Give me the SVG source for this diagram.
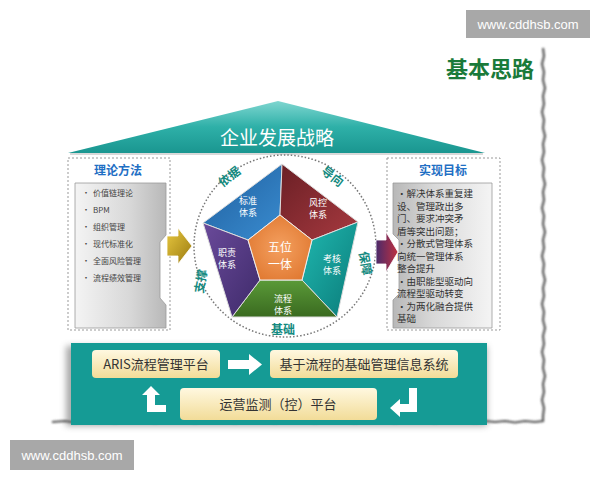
<svg xmlns="http://www.w3.org/2000/svg" width="600" height="480" viewBox="0 0 600 480">
<style>
.cjk{font-family:"Noto Sans CJK SC","Liberation Sans",sans-serif}
.wm{font-family:"Liberation Sans",sans-serif;font-size:13px;fill:#fff}
.item{font-family:"Noto Sans CJK SC",sans-serif;font-size:8px;fill:#444}
.goal{font-family:"Noto Sans CJK SC",sans-serif;font-size:9.5px;fill:#333}
.ttl{font-family:"Noto Sans CJK SC",sans-serif;font-size:12px;font-weight:bold;fill:#1f6fc4}
.seg{font-family:"Noto Sans CJK SC",sans-serif;font-size:9px;fill:#fff}
.ring{font-family:"Noto Sans CJK SC",sans-serif;font-size:12px;font-weight:bold;fill:#148a80}
.btn{font-family:"Noto Sans CJK SC",sans-serif;font-size:13px;fill:#333}
.dash{fill:#fff;stroke:#999;stroke-width:1;stroke-dasharray:2,2}
.cream{fill:url(#gCream)}
</style>
<defs>
<linearGradient id="gRoof" x1="0" y1="0" x2="0" y2="1"><stop offset="0" stop-color="#7fd6d0"/><stop offset="0.5" stop-color="#2eb0a8"/><stop offset="1" stop-color="#1a9690"/></linearGradient>
<linearGradient id="gGray" x1="0" y1="0" x2="1" y2="0"><stop offset="0" stop-color="#f4f4f4"/><stop offset="0.6" stop-color="#d8d8d8"/><stop offset="1" stop-color="#b8b8b8"/></linearGradient>
<linearGradient id="gGray2" x1="0" y1="0" x2="1" y2="0"><stop offset="0" stop-color="#b8b8b8"/><stop offset="0.4" stop-color="#d8d8d8"/><stop offset="1" stop-color="#f4f4f4"/></linearGradient>
<linearGradient id="gGold" x1="0" y1="0" x2="1" y2="1"><stop offset="0" stop-color="#e8c840"/><stop offset="1" stop-color="#9a7a10"/></linearGradient>
<linearGradient id="gRed" x1="0" y1="0" x2="1" y2="0"><stop offset="0" stop-color="#4a2a6a"/><stop offset="1" stop-color="#c03040"/></linearGradient>
<linearGradient id="gCream" x1="0" y1="0" x2="0" y2="1"><stop offset="0" stop-color="#fff8e0"/><stop offset="1" stop-color="#f2dc98"/></linearGradient>
<linearGradient id="gBlue" x1="0" y1="0" x2="1" y2="1"><stop offset="0" stop-color="#1f5f9e"/><stop offset="1" stop-color="#3a8cd0"/></linearGradient>
<linearGradient id="gDRed" x1="0" y1="0" x2="1" y2="1"><stop offset="0" stop-color="#6a1f25"/><stop offset="1" stop-color="#a83a40"/></linearGradient>
<linearGradient id="gTeal" x1="0" y1="0" x2="1" y2="1"><stop offset="0" stop-color="#20b8b0"/><stop offset="1" stop-color="#0a7a78"/></linearGradient>
<linearGradient id="gGreen" x1="0" y1="0" x2="0" y2="1"><stop offset="0" stop-color="#5a9a38"/><stop offset="1" stop-color="#3a6a20"/></linearGradient>
<linearGradient id="gPurple" x1="0" y1="0" x2="1" y2="1"><stop offset="0" stop-color="#6a4a9a"/><stop offset="1" stop-color="#3e2a6a"/></linearGradient>
<radialGradient id="gOrange" cx="0.5" cy="0.5" r="0.6"><stop offset="0" stop-color="#f4a060"/><stop offset="1" stop-color="#e07830"/></radialGradient>
<filter id="blur" x="-50%" y="-5%" width="200%" height="110%"><feGaussianBlur stdDeviation="0.8"/></filter>
<filter id="shadow" x="-10%" y="-10%" width="120%" height="130%"><feGaussianBlur stdDeviation="3"/></filter>
</defs>
<rect width="600" height="480" fill="#fff"/>

<g id="torn-edge">
<path d="M543,48 L544,56 L542,64 L544,72 L543,80 L545,88 L543,96 L544,104 L542,112 L544,120 L543,128 L545,136 L543,144 L544,152 L542,160 L544,168 L543,176 L545,184 L543,192 L544,200 L542,208 L544,216 L543,224 L545,232 L543,240 L544,248 L542,256 L544,264 L543,272 L545,280 L543,288 L544,296 L542,304 L544,312 L543,320 L545,328 L543,336 L544,344 L542,352 L544,360 L543,368 L545,376 L543,384 L544,392 L542,400 L544,408 L543,416 L543,421 L535,422 L525,421 L515,422.5 L505,421 L495,422 L485,421 L475,422.5 L465,421 L455,422 L445,421 L435,422.5 L425,421 L415,422 L405,421 L395,422.5 L385,421 L375,422 L365,421 L355,422.5 L345,421 L335,422 L325,421 L315,422.5 L305,421 L295,422 L285,421 L275,422.5 L265,421 L255,422 L245,421 L235,422.5 L225,421 L215,422 L205,421 L195,422.5 L185,421 L175,422 L165,421 L155,422.5 L145,421 L135,422 L125,421 L115,422.5 L105,421 L95,422 L85,421 L75,422.5 L65,421 L52,422" fill="none" stroke="#555" stroke-width="2.2" filter="url(#blur)"/>
</g>

<g id="watermark-top">
<rect x="466" y="10" width="124" height="28" fill="#a8a8a8"/>
<text x="528" y="29" text-anchor="middle" class="wm">www.cddhsb.com</text>
</g>
<g id="watermark-bottom">
<rect x="10" y="440" width="124" height="30" fill="#a8a8a8"/>
<text x="72" y="460" text-anchor="middle" class="wm">www.cddhsb.com</text>
</g>

<g id="title">
<text x="490" y="77" text-anchor="middle" class="cjk" font-size="22" font-weight="bold" fill="#1a7a3a">基本思路</text>
</g>

<g id="roof">
<polygon points="278,101 485,153 68,153" fill="url(#gRoof)"/>
<line x1="70" y1="154" x2="483" y2="154" stroke="#ccc" stroke-width="1.5"/>
<text x="277" y="145" text-anchor="middle" class="cjk" font-size="19" fill="#fff">企业发展战略</text>
</g>

<g id="theory-box">
<rect x="68" y="158" width="102" height="172" class="dash"/>
<text x="118" y="175" text-anchor="middle" class="ttl">理论方法</text>
<path d="M75,183 H166 V235 L160,242 V298 L166,305 V328 H75 Z" fill="url(#gGray)" stroke="#999" stroke-width="0.8"/>
<g class="item">
<text x="82" y="196">•</text><text x="93" y="196">价值链理论</text>
<text x="82" y="213">•</text><text x="93" y="213">BPM</text>
<text x="82" y="230">•</text><text x="93" y="230">组织管理</text>
<text x="82" y="247">•</text><text x="93" y="247">现代标准化</text>
<text x="82" y="264">•</text><text x="93" y="264">全面风险管理</text>
<text x="82" y="281">•</text><text x="93" y="281">流程绩效管理</text>
</g>
</g>

<g id="goal-box">
<rect x="387" y="158" width="113" height="172" class="dash"/>
<text x="443" y="175" text-anchor="middle" class="ttl">实现目标</text>
<path d="M393,183 H492 V328 H393 V300 L399,294 V240 L393,234 Z" fill="url(#gGray2)" stroke="#999" stroke-width="0.8"/>
<g class="goal">
<text x="397" y="197">•解决体系重复建</text>
<text x="397" y="209.5">设、管理政出多</text>
<text x="397" y="222">门、要求冲突矛</text>
<text x="397" y="234.5">盾等突出问题；</text>
<text x="397" y="247">•分散式管理体系</text>
<text x="397" y="259.5">向统一管理体系</text>
<text x="397" y="272">整合提升</text>
<text x="397" y="284.5">•由职能型驱动向</text>
<text x="397" y="297">流程型驱动转变</text>
<text x="397" y="309.5">•为两化融合提供</text>
<text x="397" y="322">基础</text>
</g>
</g>

<g id="five-in-one">
<circle cx="285" cy="246" r="91" fill="none" stroke="#777" stroke-width="1.5" stroke-dasharray="1.5,2"/>
<polygon points="282,164 280,215 248,240 203,223" fill="url(#gBlue)" stroke="#ddd" stroke-width="1"/>
<polygon points="282,164 358,222 312,240 280,215" fill="url(#gDRed)" stroke="#ddd" stroke-width="1"/>
<polygon points="358,222 337,317 302,280 312,240" fill="url(#gTeal)" stroke="#ddd" stroke-width="1"/>
<polygon points="337,317 232,317 260,280 302,280" fill="url(#gGreen)" stroke="#ddd" stroke-width="1"/>
<polygon points="232,317 203,223 248,240 260,280" fill="url(#gPurple)" stroke="#ddd" stroke-width="1"/>
<polygon points="280,215 312,240 302,280 260,280 248,240" fill="url(#gOrange)" stroke="#eee" stroke-width="1"/>
<text x="248" y="204" text-anchor="middle" class="seg">标准</text>
<text x="248" y="216" text-anchor="middle" class="seg">体系</text>
<text x="318" y="206" text-anchor="middle" class="seg">风控</text>
<text x="318" y="218" text-anchor="middle" class="seg">体系</text>
<text x="332" y="262" text-anchor="middle" class="seg">考核</text>
<text x="332" y="274" text-anchor="middle" class="seg">体系</text>
<text x="283" y="302" text-anchor="middle" class="seg">流程</text>
<text x="283" y="314" text-anchor="middle" class="seg">体系</text>
<text x="227" y="256" text-anchor="middle" class="seg">职责</text>
<text x="227" y="268" text-anchor="middle" class="seg">体系</text>
<text x="280" y="252" text-anchor="middle" class="cjk" font-size="12" fill="#fff">五位</text>
<text x="280" y="269" text-anchor="middle" class="cjk" font-size="12" fill="#fff">一体</text>
<text x="0" y="0" text-anchor="middle" class="ring" transform="translate(232,180) rotate(-38)">依据</text>
<text x="0" y="0" text-anchor="middle" class="ring" transform="translate(330,180) rotate(38)">导向</text>
<text x="0" y="0" text-anchor="middle" class="ring" transform="translate(361,264) rotate(80)">保障</text>
<text x="283" y="334" text-anchor="middle" class="ring">基础</text>
<text x="0" y="0" text-anchor="middle" class="ring" transform="translate(205,282) rotate(-80)">支撑</text>
</g>

<g id="platform">
<rect x="66" y="346" width="421" height="80" fill="#555" opacity="0.5" filter="url(#shadow)"/>
<rect x="71" y="343" width="416" height="82" fill="#159b95"/>
<rect x="92" y="350" width="128" height="28" rx="4" class="cream"/>
<text x="156" y="369" text-anchor="middle" class="btn">ARIS流程管理平台</text>
<rect x="270" y="350" width="188" height="28" rx="4" class="cream"/>
<text x="364" y="369" text-anchor="middle" class="btn">基于流程的基础管理信息系统</text>
<rect x="180" y="388" width="197" height="32" rx="4" class="cream"/>
<text x="278" y="409" text-anchor="middle" class="btn">运营监测（控）平台</text>
</g>

<g id="connectors">
<path d="M167,236 H178 V228 L192,246 L178,264 V256 H167 Z" fill="url(#gGold)" stroke="#fff" stroke-width="0.8"/>
<path d="M376,240 H386 V232 L398,252 L386,272 V264 H376 Z" fill="url(#gRed)" stroke="#fff" stroke-width="0.8"/>
<path d="M228,360 H249 V354 L262,364.5 L249,375 V369 H228 Z" fill="#fff"/>
<path d="M166,405 H155 V395 H160 L151,386 L142,395 H147 V412 H166 Z" fill="#fff"/>
<path d="M409,388 H417 V412 H400 V417 L390,408 L400,399 V404 H409 Z" fill="#fff"/>
</g>
</svg>
